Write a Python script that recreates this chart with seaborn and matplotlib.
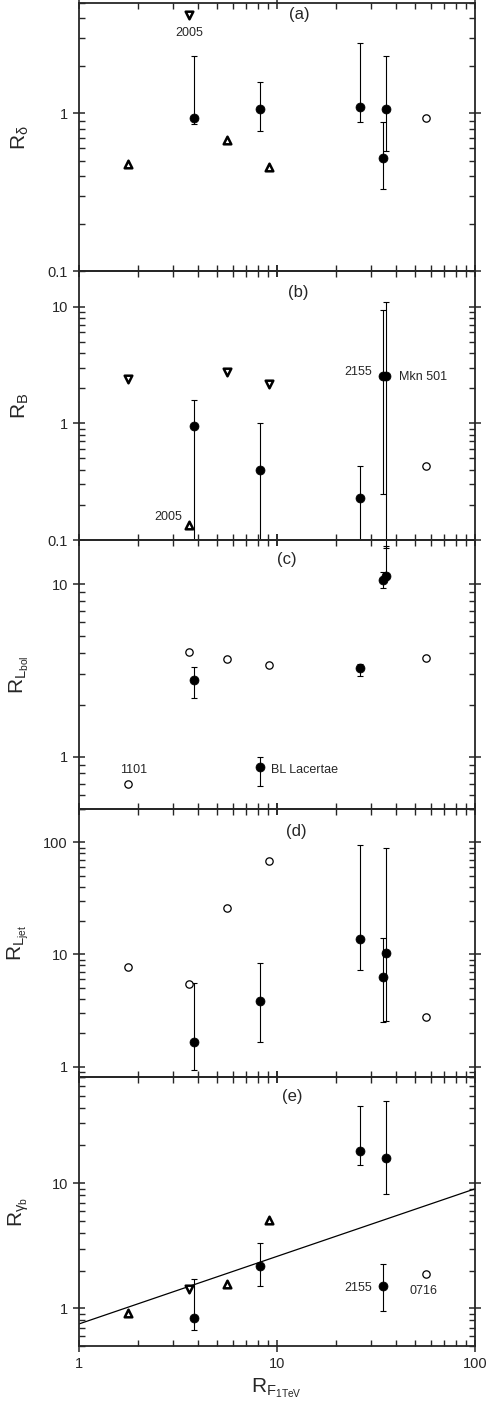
import numpy as np
import pandas as pd
import matplotlib
matplotlib.use('Agg')
import matplotlib.pyplot as plt
from matplotlib.ticker import FuncFormatter, LogLocator, NullFormatter
import seaborn as sns

# source positions along x (R_F1TeV)
x_fill = [3.81, 8.2, 26.2, 34.2, 35.4]   # filled circles with error bars
x_tri = [1.78, 5.61, 9.15]                # triangle sources
x_2005 = [3.61]                            # 2005 source
x_open = [56.6]                            # 0716
x_open_all = [1.78, 3.61, 5.61, 9.15, 56.6]

# (a) R_delta
fill_a = [0.93, 1.06, 1.09, 0.52, 1.07]
lo_a = [0.86, 0.77, 0.88, 0.33, 0.58]
hi_a = [2.3, 1.57, 2.8, 0.885, 2.3]
up_a = [0.48, 0.68, 0.455]
down_a = [4.2]
open_a = [0.94]

# (b) R_B
fill_b = [0.95, 0.40, 0.23, 2.52, 2.52]
lo_b = [0.05, 0.05, 0.05, 0.25, 0.085]
hi_b = [1.6, 1.0, 0.43, 9.4, 10.9]
down_b = [2.42, 2.76, 2.17]
up_b = [0.134]
open_b = [0.43]

# (c) R_Lbol
fill_c = [2.77, 0.875, 3.25, 10.6, 11.2]
lo_c = [2.2, 0.68, 2.92, 9.5, 10.7]
hi_c = [3.31, 1.0, 3.43, 11.7, 16.7]
open_c = [0.70, 4.07, 3.69, 3.40, 3.72]

# (d) R_Ljet
fill_d = [1.67, 3.83, 13.8, 6.27, 10.4]
lo_d = [0.94, 1.67, 7.2, 2.5, 2.54]
hi_d = [5.55, 8.4, 95, 14, 90]
open_d = [7.7, 5.47, 26, 68, 2.77]

# (e) R_gamma_b
fill_e = [0.84, 2.18, 18, 1.52, 15.8]
lo_e = [0.67, 1.5, 14, 0.95, 8.2]
hi_e = [1.72, 3.3, 41, 2.28, 45]
up_e = [0.92, 1.56, 5.08]
down_e = [1.42]
open_e = [1.88]
fit_x = [1, 100]
fit_y = [0.75, 9.0]

sns.set_style('ticks')
plt.rcParams['font.family'] = ['Liberation Sans', 'DejaVu Sans']
plt.rcParams['mathtext.fontset'] = 'custom'
plt.rcParams['mathtext.rm'] = 'Liberation Sans'
plt.rcParams['mathtext.it'] = 'Liberation Sans:italic'

fig, axes = plt.subplots(5, 1, figsize=(4.9, 14.04), dpi=100, sharex=True)
fig.subplots_adjust(left=0.161, right=0.969, top=0.998, bottom=0.0413, hspace=0)


def errbars(ax, xs, y, lo, hi, noclip=False):
    y = np.array(y)
    err = [y - np.array(lo), np.array(hi) - y]
    eb = ax.errorbar(xs, y, yerr=err, fmt='none', ecolor='black',
                     elinewidth=0.8, capsize=2.5, capthick=0.8, zorder=2)
    if noclip:
        for art in list(eb.lines[1]) + list(eb.lines[2]):
            art.set_clip_on(False)


def filled(ax, y, lo, hi):
    errbars(ax, x_fill, y, lo, hi)
    df = pd.DataFrame({'x': x_fill, 'y': y})
    sns.scatterplot(data=df, x='x', y='y', ax=ax, marker='o', s=42,
                    color='black', edgecolor='black', linewidth=0.5, zorder=3)


def opens(ax, xs, ys):
    df = pd.DataFrame({'x': xs, 'y': ys})
    sns.scatterplot(data=df, x='x', y='y', ax=ax, marker='o', s=28,
                    facecolor='white', edgecolor='black', linewidth=0.9, zorder=3)


def tri(ax, xs, ys, mk):
    df = pd.DataFrame({'x': xs, 'y': ys})
    sns.scatterplot(data=df, x='x', y='y', ax=ax, marker=mk, s=30,
                    facecolor='white', edgecolor='black', linewidth=1.8, zorder=3)


note = dict(va='center', fontsize=9)

# (a)
ax = axes[0]
filled(ax, fill_a, lo_a, hi_a)
tri(ax, x_tri, up_a, '^')
tri(ax, x_2005, down_a, 'v')
opens(ax, x_open, open_a)
ax.text(3.61, 3.2, '2005', ha='center', **note)
ax.set_ylim(0.1, 5)

# (b)
ax = axes[1]
# the last error bar runs just below the frame in the original
errbars(ax, x_fill[:4], fill_b[:4], lo_b[:4], hi_b[:4])
errbars(ax, x_fill[4:], fill_b[4:], lo_b[4:], hi_b[4:], noclip=True)
sns.scatterplot(x=x_fill, y=fill_b, ax=ax, marker='o', s=42,
                color='black', edgecolor='black', linewidth=0.5, zorder=3)
tri(ax, x_tri, down_b, 'v')
tri(ax, x_2005, up_b, '^')
opens(ax, x_open, open_b)
ax.text(30.1, 2.76, '2155', ha='right', **note)
ax.text(41.3, 2.5, 'Mkn 501', ha='left', **note)
ax.text(3.32, 0.157, '2005', ha='right', **note)
ax.set_ylim(0.1, 20)

# (c)
ax = axes[2]
filled(ax, fill_c, lo_c, hi_c)
opens(ax, x_open_all, open_c)
ax.text(1.90, 0.84, '1101', ha='center', **note)
ax.text(9.29, 0.84, 'BL Lacertae', ha='left', **note)
ax.set_ylim(0.5, 18)

# (d)
ax = axes[3]
filled(ax, fill_d, lo_d, hi_d)
opens(ax, x_open_all, open_d)
ax.set_ylim(0.8, 200)

# (e)
ax = axes[4]
sns.lineplot(x=fit_x, y=fit_y, ax=ax, color='black', linewidth=0.9, zorder=1)
filled(ax, fill_e, lo_e, hi_e)
tri(ax, x_tri, up_e, '^')
tri(ax, x_2005, down_e, 'v')
opens(ax, x_open, open_e)
ax.text(30.1, 1.45, '2155', ha='right', **note)
ax.text(54.8, 1.38, '0716', ha='center', **note)
ax.set_ylim(0.5, 70)

panel_tags = ['(a)', '(b)', '(c)', '(d)', '(e)']
tag_pos = [(0.556, 0.955), (0.553, 0.92), (0.525, 0.929), (0.55, 0.916), (0.54, 0.927)]
ylabels = [r'$\mathregular{R_{\delta}}$', r'$\mathregular{R_{B}}$',
           r'$\mathregular{R_{L_{bol}}}$', r'$\mathregular{R_{L_{jet}}}$',
           r'$\mathregular{R_{\gamma_b}}$']

fmt = FuncFormatter(lambda v, p: ('%g' % v))
for i, ax in enumerate(axes):
    ax.patch.set_visible(False)
    ax.set_xscale('log')
    ax.set_yscale('log')
    ax.set_xlim(1, 100)
    ax.yaxis.set_major_locator(LogLocator(base=10))
    ax.yaxis.set_minor_locator(LogLocator(base=10, subs=np.arange(2, 10)))
    ax.yaxis.set_major_formatter(fmt)
    ax.yaxis.set_minor_formatter(NullFormatter())
    ax.tick_params(which='major', direction='inout', length=9, width=1.1,
                   top=True, right=True, labelsize=10.5)
    ax.tick_params(which='minor', direction='in', length=4, width=1.0,
                   top=True, right=True)
    for sp in ax.spines.values():
        sp.set_linewidth(1.3)
        sp.set_visible(True)
    ax.text(tag_pos[i][0], tag_pos[i][1], panel_tags[i], transform=ax.transAxes,
            ha='center', va='center', fontsize=12)
    ax.set_ylabel(ylabels[i], fontsize=15)
    ax.yaxis.set_label_coords(-0.12, 0.5)
    ax.set_xlabel('')

axes[4].xaxis.set_major_formatter(fmt)
axes[4].xaxis.set_minor_formatter(NullFormatter())
axes[4].set_xlabel(r'$\mathregular{R_{F_{1TeV}}}$', fontsize=15)

fig.savefig('out.png', dpi=100, facecolor='white')
